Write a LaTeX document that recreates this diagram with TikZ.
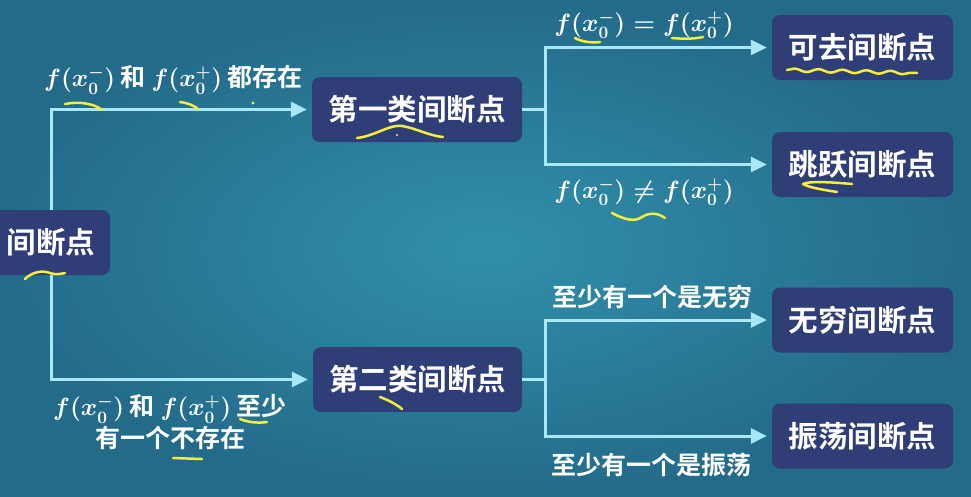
\documentclass[tikz,border=0pt]{standalone}
\usepackage{fontspec}
\newfontfamily\cjk{Noto Sans CJK SC Bold}
\usetikzlibrary{arrows.meta,decorations.pathmorphing}
\definecolor{bgin}{HTML}{3190AB}
\definecolor{bgout}{HTML}{246B8A}
\definecolor{boxc}{HTML}{303E78}
\definecolor{linec}{HTML}{A8E8FA}
\definecolor{hl}{HTML}{F2F03A}
\newcommand\mymath[1]{{\fontsize{27}{30}\selectfont\boldmath$#1$}}
\tikzset{
  box/.style={fill=boxc, rounded corners=8pt, text=white, font=\cjk\fontsize{29.5}{32}\selectfont, inner sep=0pt, minimum height=65pt},
  conn/.style={draw=linec, line width=3pt, -{Triangle[length=16pt,width=15pt]}, shorten >=5pt},
  lbl/.style={text=white, font=\cjk\fontsize{25}{30}\selectfont, inner sep=0pt},
  hand/.style={draw=hl, line width=2.5pt, line cap=round, line join=round}
}
\begin{document}
\begin{tikzpicture}[x=1pt,y=-1pt]
\useasboundingbox (0,0) rectangle (971,496);
\shade[inner color=bgin, outer color=bgout] (0,0) rectangle (971,496);

\node[box, minimum width=118pt] (root) at (51,242.5) {间断点};
\node[box, minimum width=210pt] (first) at (417,109.5) {第一类间断点};
\node[box, minimum width=209pt] (second) at (417.5,379.5) {第二类间断点};
\node[box, minimum width=181pt] (remov) at (862.5,47.5) {可去间断点};
\node[box, minimum width=181pt] (jump) at (862.5,164.5) {跳跃间断点};
\node[box, minimum width=181pt] (inf) at (862.5,320) {无穷间断点};
\node[box, minimum width=181pt] (osc) at (862.5,436) {振荡间断点};

\node[lbl] (l1) at (173.5,80) {\mymath{f(x_0^-)} 和 \mymath{f(x_0^+)} 都存在};
\node[lbl] (l2) at (644,25) {\mymath{f(x_0^-)=f(x_0^+)}};
\node[lbl] (l3) at (644,192) {\mymath{f(x_0^-)\neq f(x_0^+)}};
\node[lbl, align=center] (l4) at (170,422) {\mymath{f(x_0^-)} 和 \mymath{f(x_0^+)} 至少\\[2pt]有一个不存在};
\node[lbl] (l5) at (652,297) {至少有一个是无穷};
\node[lbl] (l6) at (651,465) {至少有一个是振荡};

\draw[conn] (root.north) |- (first.west);
\draw[conn] (root.south) |- (second.west);
\coordinate (j1) at ([xshift=23pt]first.east);
\coordinate (j2) at ([xshift=23pt]second.east);
\draw[conn] (first.east) -- (j1) |- (remov.west);
\draw[conn] (j1) |- (jump.west);
\draw[conn] (second.east) -- (j2) |- (inf.west);
\draw[conn] (j2) |- (osc.west);

% yellow hand annotations
\draw[hand] (65,104) .. controls (80,101) and (95,104) .. (102,110);
\draw[hand] (180,102) .. controls (188,103) and (195,106) .. (198,109);
\fill[hl] (253,103) circle (1.6pt);
\draw[hand] (25,279) .. controls (32,272) and (42,270) .. (50,273) .. controls (56,275) and (60,274) .. (65,273);
\draw[hand] (357,138) .. controls (375,136) and (390,124) .. (402,126) .. controls (415,128) and (430,136) .. (443,137);
\fill[hl] (397,135) circle (1.2pt);
\draw[hand] (575,38) .. controls (582,42) and (592,43) .. (600,42);
\draw[hand] (672,38) .. controls (682,39) and (695,39) .. (703,37);
\draw[hand, decorate, decoration={snake, amplitude=1.6pt, segment length=24pt}] (787,70) -- (917,73);
\draw[hand] (852,184) .. controls (830,182) and (808,181) .. (803,184) .. controls (810,188) and (825,190) .. (837,192);
\draw[hand] (612,213) .. controls (625,220) and (635,222) .. (642,217) .. controls (650,212) and (658,213) .. (665,218);
\draw[hand] (380,397) .. controls (388,400) and (396,404) .. (402,409);
\draw[hand] (240,419) .. controls (250,423) and (260,423) .. (267,422);
\draw[hand] (173,458) -- (202,459);
\end{tikzpicture}
\end{document}
